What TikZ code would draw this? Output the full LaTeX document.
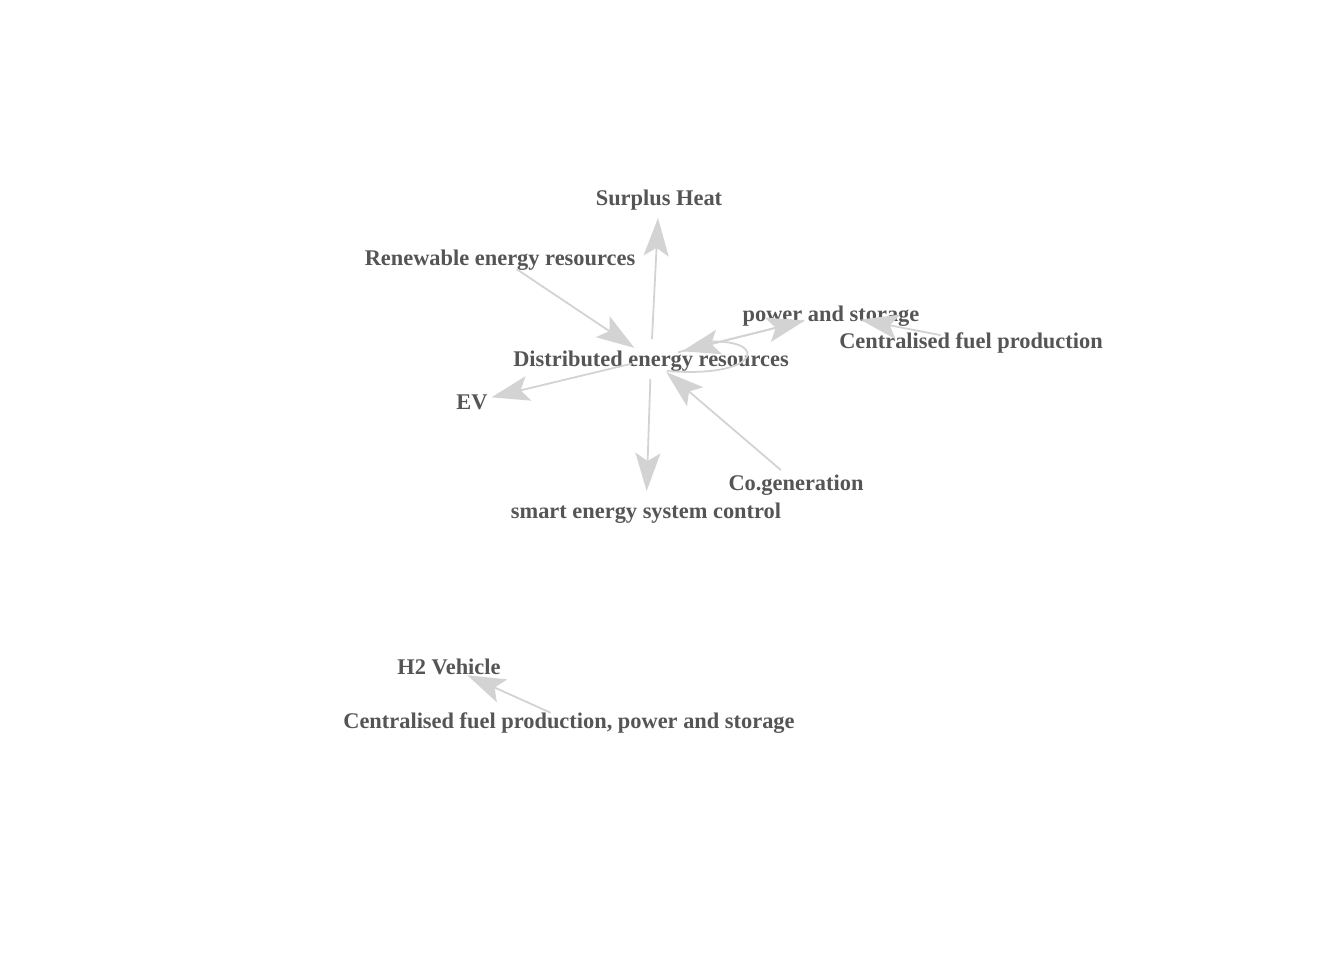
\documentclass[tikz,border=0pt]{standalone}
\usepackage{fontspec}
\setmainfont{Liberation Serif}
\usetikzlibrary{arrows.meta}
\definecolor{labelgray}{RGB}{85,85,85}
\definecolor{edgegray}{RGB}{211,211,211}
\tikzset{
  lbl/.style={text=labelgray, font=\fontsize{11.2}{13}\selectfont\bfseries, inner sep=0pt, text height=7.4pt, text depth=0pt},
  edge/.style={draw=edgegray, line width=0.9pt, -{Stealth[length=19pt,width=12.5pt,inset=4pt]}, shorten <=10pt, shorten >=10pt}
}
\begin{document}
\begin{tikzpicture}[x=0.5pt, y=-0.5pt]
\useasboundingbox (0,0) rectangle (1344,960);
% vertices
\node[lbl] (heat)  at (659,198) {Surplus Heat};
\node[lbl] (res)   at (500,258) {Renewable energy resources};
\node[lbl] (pas)   at (831,314) {power and storage};
\node[lbl] (cfp)   at (971,341) {Centralised fuel production};
\node[lbl] (der)   at (651,359) {Distributed energy resources};
\node[lbl] (ev)    at (472,402) {EV};
\node[lbl] (cogen) at (796,483) {Co.generation};
\node[lbl] (ctrl)  at (646,511) {smart energy system control};
\node[lbl] (h2)    at (449,667) {H2 Vehicle};
\node[lbl] (cfpps) at (569,721) {Centralised fuel production, power and storage};
% edges
\foreach \t in {heat,ev,ctrl} {
 \draw[edge] (der.center) -- (\t.center);
}
\foreach \s in {res,cogen} {
 \draw[edge] (\s.center) -- (der.center);
}
\draw[edge, shorten <=14pt, shorten >=13.5pt] (der.center) -- (pas.center);
\draw[edge, shorten <=14pt, shorten >=16pt] (pas.center) -- (der.center);
\draw[edge, shorten <=15.5pt, shorten >=15pt] (cfp.center) -- (pas.center);
% loop on der
\draw[draw=edgegray, line width=0.9pt] ([shift={(16,12)}]der.center)
  .. controls ([shift={(118,20)}]der.center) and ([shift={(118,-26)}]der.center) .. ([shift={(45,-16)}]der.center);
\draw[edge] (cfpps.center) -- (h2.center);
\end{tikzpicture}
\end{document}
